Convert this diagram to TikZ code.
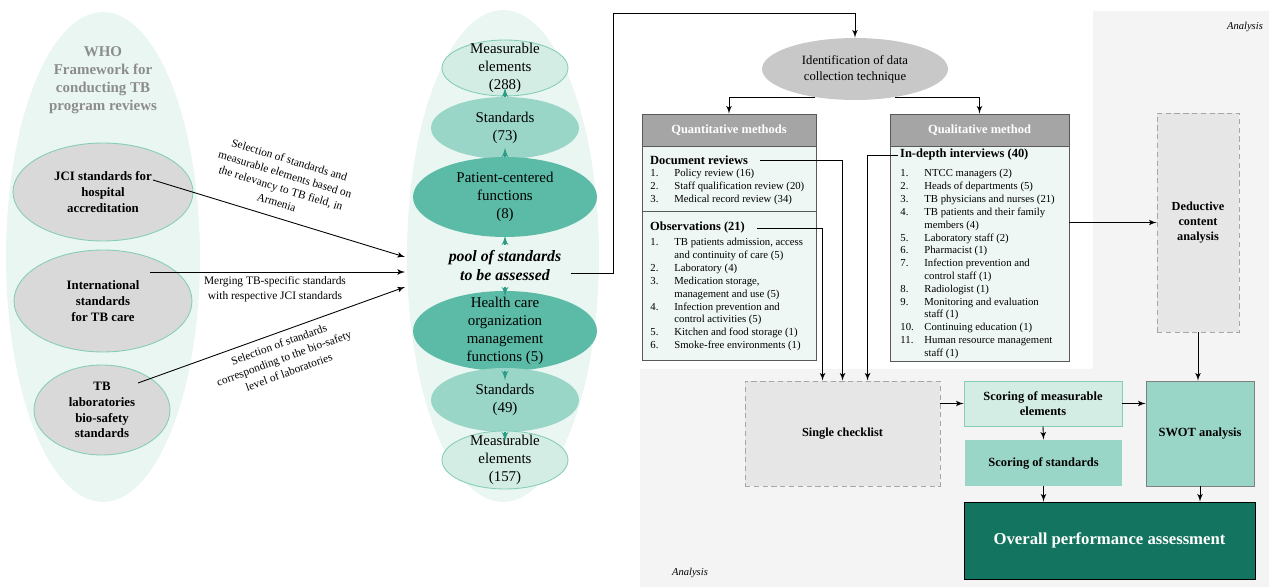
\documentclass[tikz,border=0pt]{standalone}
\usepackage{fontspec}
\setmainfont{Liberation Serif}
\usepackage{tikz}
\usetikzlibrary{arrows,calc,positioning,shapes.geometric}

\definecolor{palemint}{HTML}{EAF6F1}
\definecolor{mintline}{HTML}{86CDB9}
\definecolor{melight}{HTML}{D3EDE4}
\definecolor{stdmid}{HTML}{9AD6C8}
\definecolor{fundark}{HTML}{5CBBA7}
\definecolor{tealarr}{HTML}{2A9D84}
\definecolor{srcgray}{HTML}{D9D9D9}
\definecolor{idgray}{HTML}{C8C8C8}
\definecolor{headgray}{HTML}{A5A5A5}
\definecolor{bodymint}{HTML}{EEF7F3}
\definecolor{anagray}{HTML}{F4F4F4}
\definecolor{dashfill}{HTML}{E6E6E6}
\definecolor{overallg}{HTML}{13755F}
\definecolor{whogray}{HTML}{8C8C8C}
\definecolor{boxline}{HTML}{595959}

\newcommand{\qitem}[2]{\makebox[0.48cm][l]{#1}#2}
\newcommand{\qcont}[1]{\hspace*{0.48cm}#1}

\begin{document}
\begin{tikzpicture}[>=latex', x=0.02cm, y=-0.02cm, line width=0.5pt,
	egg/.style={ellipse, fill=palemint, inner sep=0pt},
	srcell/.style={ellipse, draw=mintline, fill=srcgray, inner xsep=0pt, inner ysep=-4pt, align=center, font=\bfseries\fontsize{7.3}{9}\selectfont},
	lvl/.style={ellipse, inner xsep=0pt, inner ysep=-14pt, align=center, font=\fontsize{8.5}{10.2}\selectfont},
	lvlme/.style={lvl, fill=melight, draw=mintline},
	lvlstd/.style={lvl, fill=stdmid},
	lvlfun/.style={lvl, fill=fundark},
	lbl/.style={align=center, inner sep=0pt, font=\fontsize{6.5}{8.4}\selectfont},
	uparr/.style={->, draw=tealarr, line width=0.9pt},
	headbox/.style={rectangle, draw=boxline, fill=headgray, text=white, font=\bfseries\fontsize{7.1}{8.5}\selectfont},
	bodybox/.style={rectangle, draw=boxline, fill=bodymint},
	secttl/.style={inner sep=1pt, font=\bfseries\fontsize{7.1}{8.5}\selectfont},
	listtxt/.style={inner sep=0pt, align=left, font=\fontsize{6.1}{7.3}\selectfont},
	dashbox/.style={rectangle, draw=gray!70, dash pattern=on 3pt off 2pt, fill=dashfill, align=center, font=\bfseries\fontsize{7}{8.6}\selectfont},
	resbox/.style={rectangle, align=center, font=\bfseries\fontsize{7.1}{8.2}\selectfont},
	antxt/.style={font=\itshape\fontsize{6}{7}\selectfont, inner sep=0pt}]
	\useasboundingbox (0,0) rectangle (1269,587);
	\fill[anagray] (1093,11) -- (1269,11) -- (1269,587) -- (640,587) -- (640,369) -- (1093,369) -- cycle;
	\node[antxt] (antop) at (1245,27) {Analysis};
	\node[antxt] (anbot) at (690,573) {Analysis};

	\node[egg, minimum width=3.88cm, minimum height=9.8cm] (leftegg) at (103,257) {};
	\node[egg, minimum width=3.84cm, minimum height=9.84cm] (midegg) at (503,256) {};

	\node[align=center, text=whogray, font=\bfseries\fontsize{8.5}{10.2}\selectfont] (who) at (103,80) {WHO\\Framework for\\conducting TB\\program reviews};
	\node[srcell, minimum width=3.6cm, minimum height=1.96cm] (jci) at (103,192) {JCI standards for\\hospital\\accreditation};
	\node[srcell, minimum width=3.56cm, minimum height=2.04cm] (intl) at (103,301) {International\\standards\\for TB care};
	\node[srcell, minimum width=2.72cm, minimum height=1.8cm] (tblab) at (102,410) {TB\\laboratories\\bio-safety\\standards};

	\node[lvlme, minimum width=2.52cm, minimum height=1.12cm] (me288) at (505,68) {Measurable\\elements\\(288)};
	\node[lvlstd, minimum width=2.96cm, minimum height=1.24cm] (std73) at (505,128) {Standards\\(73)};
	\node[lvlfun, minimum width=3.68cm, minimum height=1.6cm] (pcf) at (505,197) {Patient-centered\\functions\\(8)};
	\node[align=center, font=\bfseries\itshape\fontsize{9}{10.8}\selectfont] (pool) at (505,266) {pool of standards\\to be assessed};
	\node[lvlfun, minimum width=3.68cm, minimum height=1.6cm] (hco) at (505,331) {Health care\\organization\\management\\functions (5)};
	\node[lvlstd, minimum width=2.96cm, minimum height=1.28cm] (std49) at (505,400) {Standards\\(49)};
	\node[lvlme, minimum width=2.52cm, minimum height=1.16cm] (me157) at (505,460) {Measurable\\elements\\(157)};
	\foreach \lo in {pool, pcf, std73}
		\draw[uparr] (\lo.north) -- ++(0,-9);
	\foreach \hi in {pool, hco, std49}
		\draw[uparr] (\hi.south) -- ++(0,9);

	\coordinate (in1) at (405,257);
	\coordinate (in2) at (405,272);
	\coordinate (in3) at (405,287);
	\draw[->] ($(jci)+(50,-12)$) -- (in1);
	\draw[->] ($(intl)+(47,-29)$) -- (in2);
	\draw[->] ($(tblab)+(36,-27)$) -- (in3);
	\node[lbl, rotate=-17] (lbljci) at (283,181) {Selection of standards and\\measurable elements based on\\the relevancy to TB field, in\\Armenia};
	\node[lbl] (lblintl) at (275,289) {Merging TB-specific standards\\with respective JCI standards};
	\node[lbl, rotate=20] (lbltb) at (284,358) {Selection of standards\\corresponding to the bio-safety\\level of laboratories};

	\node[ellipse, fill=idgray, minimum width=3.72cm, minimum height=1.24cm, inner sep=0pt, align=center, font=\fontsize{7.2}{9.2}\selectfont] (ident) at (855,69) {Identification of data\\collection technique};
	\coordinate (topbend) at (613,13);
	\draw[->] ($(pool.east)+(3,7)$) -| (topbend) -| (ident.north);

	\node[headbox, minimum width=3.48cm, minimum height=0.64cm] (qnhead) at (729,130) {Quantitative methods};
	\node[bodybox, minimum width=3.48cm, minimum height=1.3cm] (qndoc) at (729,178.5) {};
	\node[bodybox, minimum width=3.48cm, minimum height=2.98cm] (qnobs) at (729,285.5) {};
	\node[secttl, anchor=west] (docttl) at (648,160) {Document reviews};
	\node[listtxt, anchor=north west] (doclist) at (650,169) {\qitem{1.}{Policy review (16)}\\\qitem{2.}{Staff qualification review (20)}\\\qitem{3.}{Medical record review (34)}};
	\node[secttl, anchor=west] (obsttl) at (648,228) {Observations (21)};
	\node[listtxt, anchor=north west] (obslist) at (650,238) {\qitem{1.}{TB patients admission, access}\\\qcont{and continuity of care (5)}\\\qitem{2.}{Laboratory (4)}\\\qitem{3.}{Medication storage,}\\\qcont{management and use (5)}\\\qitem{4.}{Infection prevention and}\\\qcont{control activities (5)}\\\qitem{5.}{Kitchen and food storage (1)}\\\qitem{6.}{Smoke-free environments (1)}};

	\node[headbox, minimum width=3.58cm, minimum height=0.64cm] (qlhead) at (979.5,130) {Qualitative method};
	\node[bodybox, minimum width=3.58cm, minimum height=4.3cm] (qlbody) at (979.5,253.5) {};
	\node[secttl, anchor=west] (ivttl) at (898,155) {In-depth interviews (40)};
	\node[listtxt, anchor=north west] (ivlist) at (900,169) {\qitem{1.}{NTCC managers (2)}\\\qitem{2.}{Heads of departments (5)}\\\qitem{3.}{TB physicians and nurses (21)}\\\qitem{4.}{TB patients and their family}\\\qcont{members (4)}\\\qitem{5.}{Laboratory staff (2)}\\\qitem{6.}{Pharmacist (1)}\\\qitem{7.}{Infection prevention and}\\\qcont{control staff (1)}\\\qitem{8.}{Radiologist (1)}\\\qitem{9.}{Monitoring and evaluation}\\\qcont{staff (1)}\\\qitem{10.}{Continuing education (1)}\\\qitem{11.}{Human resource management}\\\qcont{staff (1)}};
	\draw[->] (ident.215) -| (qnhead.north);
	\draw[->] (ident.325) -| (qlhead.north);

	\node[dashbox, minimum width=1.64cm, minimum height=4.38cm] (deduct) at (1198,222.5) {Deductive\\content\\analysis};
	\node[dashbox, minimum width=3.9cm, minimum height=2.1cm] (chk) at (842.5,433.5) {Single checklist};
	\node[resbox, fill=melight, draw=mintline, minimum width=3.16cm, minimum height=0.9cm] (scme) at (1043,403.5) {Scoring of measurable\\elements};
	\node[resbox, fill=stdmid, minimum width=3.14cm, minimum height=0.92cm] (scst) at (1043.5,463) {Scoring of standards};
	\node[resbox, fill=stdmid, draw=gray, minimum width=2.16cm, minimum height=2.1cm] (swot) at (1200,433.5) {SWOT analysis};
	\node[resbox, fill=overallg, draw=black, text=white, font=\bfseries\fontsize{9.5}{11}\selectfont, minimum width=5.82cm, minimum height=1.54cm] (overall) at (1109.5,540.5) {Overall performance assessment};

	\draw[->, shorten <=2mm] (docttl.east) -| ($(chk.north west)+(98,0)$);
	\draw[->, shorten <=2mm] (obsttl.east) -| ($(chk.north west)+(78,0)$);
	\draw[->] (ivttl.west) -| ($(chk.north west)+(123,0)$);
	\draw[->] (qlbody.east |- deduct.west) -- (deduct.west);
	\draw[->] (deduct.south) -- (deduct.south |- swot.north);
	\draw[->] (chk.east |- scme.west) -- (scme.west);
	\draw[->] (scme.east) -- (scme.east -| swot.west);
	\draw[->] (scme.south) -- (scst.north);
	\draw[->] (scst.south) -- (scst.south |- overall.north);
	\draw[->] (swot.south) -- (swot.south |- overall.north);
\end{tikzpicture}
\end{document}
